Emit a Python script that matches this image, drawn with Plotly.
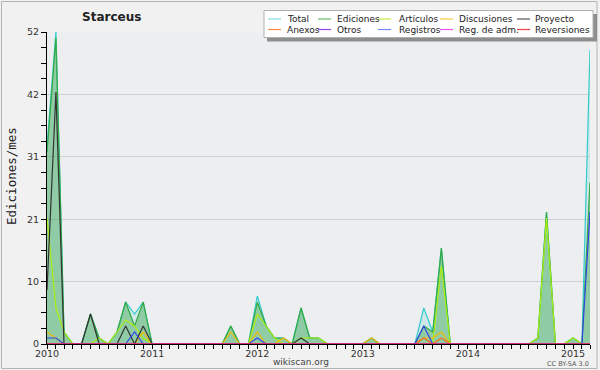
import pandas as pd
import plotly.graph_objects as go

# ---------------- data ----------------
months = pd.date_range("2010-01-01", "2015-03-01", freq="MS")

total = [33, 52, 2, 0, 0, 5, 1, 0, 2, 7, 5, 7,
         0, 0, 0, 0, 0, 0, 0, 0, 0, 3, 0, 0,
         8, 3, 1, 1, 0, 6, 1, 1, 0, 0, 0, 0,
         0, 1, 0, 0, 0, 0, 0, 6, 2, 16, 0, 0,
         0, 0, 0, 0, 0, 0, 0, 0, 1, 22, 0, 0,
         1, 0, 49]
ediciones = [32, 51, 2, 0, 0, 5, 1, 0, 2, 7, 3, 7,
             0, 0, 0, 0, 0, 0, 0, 0, 0, 3, 0, 0,
             7, 3, 1, 1, 0, 6, 1, 1, 0, 0, 0, 0,
             0, 1, 0, 0, 0, 0, 0, 3, 2, 16, 0, 0,
             0, 0, 0, 0, 0, 0, 0, 0, 1, 22, 0, 0,
             1, 0, 27]
articulos = [21, 6, 2, 0, 0, 0, 1, 0, 2, 4, 3, 1,
             0, 0, 0, 0, 0, 0, 0, 0, 0, 0, 0, 0,
             5, 3, 1, 0, 0, 1, 1, 1, 0, 0, 0, 0,
             0, 0, 0, 0, 0, 0, 0, 0, 0, 13, 0, 0,
             0, 0, 0, 0, 0, 0, 0, 0, 1, 21, 0, 0,
             1, 0, 0]
discusiones = [2, 1, 0, 0, 0, 0, 0, 0, 0, 0, 0, 2,
               0, 0, 0, 0, 0, 0, 0, 0, 0, 2, 0, 0,
               2, 0, 0, 1, 0, 0, 0, 0, 0, 0, 0, 0,
               0, 1, 0, 0, 0, 0, 0, 1, 1, 2, 0, 0,
               0, 0, 0, 0, 0, 0, 0, 0, 0, 0, 0, 0,
               0, 0, 0]
proyecto = [9, 42, 0, 0, 0, 5, 0, 0, 0, 3, 0, 3,
            0, 0, 0, 0, 0, 0, 0, 0, 0, 0, 0, 0,
            0, 0, 0, 0, 0, 1, 0, 0, 0, 0, 0, 0,
            0, 0, 0, 0, 0, 0, 0, 0, 0, 0, 0, 0,
            0, 0, 0, 0, 0, 0, 0, 0, 0, 0, 0, 0,
            0, 0, 0]
anexos = [0] * 43 + [1, 0, 1] + [0] * 17
otros = [0] * 63
registros = [1, 1, 0, 0, 0, 0, 0, 0, 0, 0, 2, 0,
             0, 0, 0, 0, 0, 0, 0, 0, 0, 0, 0, 0,
             1, 0, 0, 0, 0, 0, 0, 0, 0, 0, 0, 0,
             0, 0, 0, 0, 0, 0, 0, 3, 0, 0, 0, 0,
             0, 0, 0, 0, 0, 0, 0, 0, 0, 0, 0, 0,
             0, 0, 22]
reg_adm = [0] * 63
reversiones = [0] * 63

series_names = ["Total", "Ediciones", "Artículos", "Discusiones", "Proyecto",
                "Anexos", "Otros", "Registros", "Reg. de adm.", "Reversiones"]
series_values = [total, ediciones, articulos, discusiones, proyecto,
                 anexos, otros, registros, reg_adm, reversiones]
line_colors = ["#33cccc", "#33aa44", "#aaee11", "#f5bb00", "#333333",
               "#ff6a1a", "#9933ee", "#3344ee", "#ee33ee", "#ee2222"]
legend_colors = ["#88dede", "#66bb66", "#c4ee44", "#ffcc44", "#555555",
                 "#ff8844", "#9944ee", "#7788ee", "#ee55ee", "#ee4444"]
fills = {"Total": "rgba(51,204,204,0.16)", "Ediciones": "rgba(51,160,60,0.40)"}

y_major = [0, 10.4, 20.8, 31.2, 41.6, 52]
y_major_text = ["0", "10", "21", "31", "42", "52"]
y_minor = [round(2.6 * i, 2) for i in range(21) if i % 4 != 0]

# ---------------- layout geometry ----------------
W, H = 600, 370
L, R, T, B = 47, 10, 32, 26
PW, PH = W - L - R, H - T - B


def px(x):
    return (x - L) / PW


def py(y):
    return (H - B - y) / PH


fig = go.Figure()
for name, vals, col in zip(series_names, series_values, line_colors):
    fig.add_trace(go.Scatter(
        x=months, y=vals, name=name, mode="lines",
        line=dict(color=col, width=1.2),
        fill="tozeroy" if name in fills else None,
        fillcolor=fills.get(name),
        showlegend=False,
    ))

fig.update_layout(
    width=W, height=H,
    margin=dict(l=L, r=R, t=T, b=B),
    paper_bgcolor="#f1f1f1",
    plot_bgcolor="#eceef0",
    font=dict(family="DejaVu Sans", size=10, color="#333333"),
    showlegend=False,
)

fig.update_xaxes(
    type="date",
    range=[months[0], months[-1]],
    tick0="2010-01-01", dtick="M12", tickformat="%Y",
    ticks="outside", ticklen=4, tickcolor="#000", tickwidth=1,
    minor=dict(dtick="M1", ticks="outside", ticklen=4, tickcolor="#000", showgrid=False),
    showline=True, linecolor="#000", linewidth=1,
    showgrid=False, zeroline=False,
    ticklabelstandoff=-3,
    tickfont=dict(family="DejaVu Sans", size=9.5, color="#333"),
)
fig.update_yaxes(
    range=[0, 52],
    tickmode="array", tickvals=y_major, ticktext=y_major_text,
    ticks="outside", ticklen=5, tickcolor="#000",
    minor=dict(tickmode="array", tickvals=y_minor, ticks="outside", ticklen=5,
               tickcolor="#000", showgrid=False),
    showline=True, linecolor="#000", linewidth=1,
    showgrid=True, gridcolor="#cfcfcf", gridwidth=1,
    zeroline=False,
    tickfont=dict(family="DejaVu Sans", size=9.5, color="#333"),
)

shapes = []
annotations = []

# outer frame
shapes.append(dict(type="rect", xref="paper", yref="paper",
                   x0=px(1.5), x1=px(597), y0=py(1.5), y1=py(368.5),
                   line=dict(color="#b4b4b4", width=1), layer="below"))

# title
annotations.append(dict(text="<b>Starceus</b>", xref="paper", yref="paper",
                        x=px(111), y=py(17), xanchor="center", yanchor="middle",
                        showarrow=False,
                        font=dict(family="DejaVu Sans", size=12, color="#222")))
# y title
annotations.append(dict(text="Ediciones/mes", xref="paper", yref="paper",
                        x=px(11), y=py(176), xanchor="center", yanchor="middle",
                        textangle=-90, showarrow=False,
                        font=dict(family="DejaVu Sans Mono", size=12.5, color="#222")))
# footer
annotations.append(dict(text="wikiscan.org", xref="paper", yref="paper",
                        x=px(301), y=py(361.5), xanchor="center", yanchor="middle",
                        showarrow=False,
                        font=dict(family="DejaVu Sans", size=9, color="#444")))
annotations.append(dict(text="CC BY-SA 3.0", xref="paper", yref="paper",
                        x=px(591), y=py(363.5), xanchor="right", yanchor="middle",
                        showarrow=False,
                        font=dict(family="DejaVu Sans", size=6.5, color="#555")))

# legend box (shadow + white box)
shapes.append(dict(type="rect", xref="paper", yref="paper",
                   x0=px(267), x1=px(597), y0=py(14), y1=py(41.5),
                   fillcolor="#8e8e8e", line=dict(width=0)))
shapes.append(dict(type="rect", xref="paper", yref="paper",
                   x0=px(264), x1=px(593), y0=py(10.5), y1=py(37.5),
                   fillcolor="#ffffff", line=dict(color="#b0b0b0", width=1)))

col_line_x = [268, 318, 378, 440, 517]
col_text_x = [285, 335, 397, 457, 533]
row_y = [19, 29.5]
for i, (name, col) in enumerate(zip(series_names, legend_colors)):
    r, c = divmod(i, 5)
    yy = py(row_y[r])
    shapes.append(dict(type="line", xref="paper", yref="paper",
                       x0=px(col_line_x[c]), x1=px(col_line_x[c] + 13), y0=yy, y1=yy,
                       line=dict(color=col, width=1.2)))
    annotations.append(dict(text=name, xref="paper", yref="paper",
                            x=px(col_text_x[c]), y=yy, xanchor="left", yanchor="middle",
                            showarrow=False,
                            font=dict(family="DejaVu Sans", size=9, color="#222")))

fig.update_layout(shapes=shapes, annotations=annotations)
fig.write_html("out.html")
